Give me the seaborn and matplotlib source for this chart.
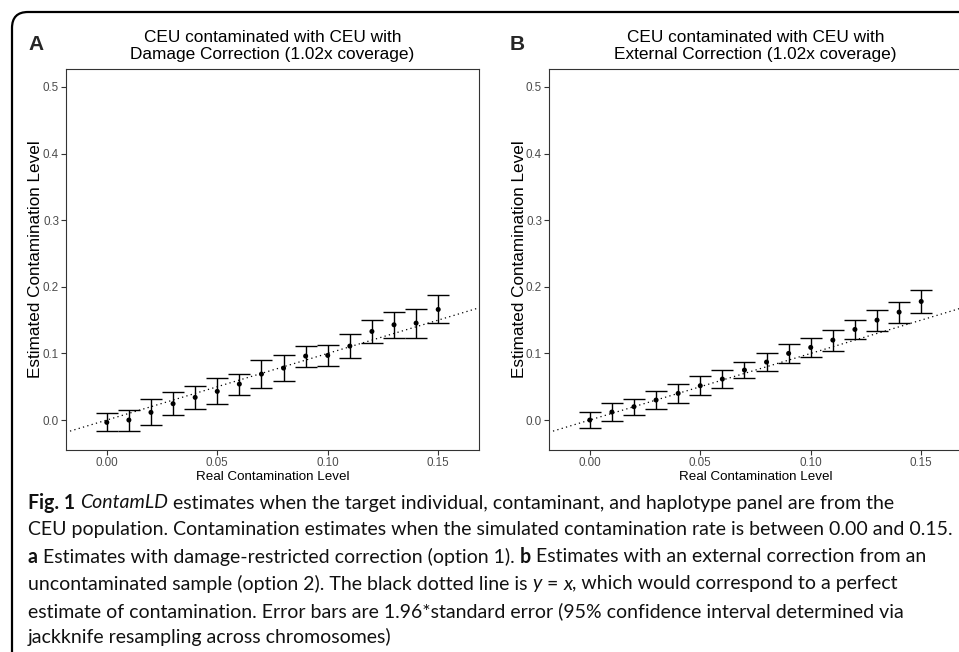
import matplotlib
matplotlib.use("Agg")
import matplotlib.pyplot as plt
from matplotlib.patches import FancyBboxPatch
from matplotlib import font_manager
import numpy as np
import pandas as pd
import seaborn as sns

# ---------------- data ----------------
real_level = [0.00, 0.01, 0.02, 0.03, 0.04, 0.05, 0.06, 0.07,
              0.08, 0.09, 0.10, 0.11, 0.12, 0.13, 0.14, 0.15]

damage_est = [-0.0035, 0.0000, 0.0115, 0.0245, 0.0340, 0.0430, 0.0540, 0.0690,
              0.0780, 0.0960, 0.0970, 0.1110, 0.1330, 0.1430, 0.1455, 0.1660]
damage_lo = [-0.0170, -0.0160, -0.0080, 0.0070, 0.0165, 0.0235, 0.0380, 0.0475,
             0.0585, 0.0800, 0.0810, 0.0930, 0.1155, 0.1235, 0.1235, 0.1450]
damage_hi = [0.0105, 0.0155, 0.0315, 0.0425, 0.0515, 0.0625, 0.0695, 0.0900,
             0.0970, 0.1110, 0.1120, 0.1290, 0.1505, 0.1625, 0.1665, 0.1875]

external_est = [0.0000, 0.0120, 0.0200, 0.0300, 0.0400, 0.0515, 0.0615, 0.0750,
                0.0870, 0.1000, 0.1090, 0.1200, 0.1360, 0.1500, 0.1620, 0.1780]
external_lo = [-0.0120, -0.0020, 0.0080, 0.0160, 0.0260, 0.0380, 0.0480, 0.0630,
               0.0730, 0.0860, 0.0950, 0.1040, 0.1220, 0.1340, 0.1460, 0.1600]
external_hi = [0.0115, 0.0255, 0.0315, 0.0435, 0.0535, 0.0655, 0.0755, 0.0865,
               0.1005, 0.1135, 0.1225, 0.1355, 0.1495, 0.1655, 0.1775, 0.1955]

panel_letters = ["A", "B"]
panel_titles = ["CEU contaminated with CEU with\nDamage Correction (1.02x coverage)",
                "CEU contaminated with CEU with\nExternal Correction (1.02x coverage)"]
x_label = "Real Contamination Level"
y_label = "Estimated Contamination Level"
x_ticks = [0.00, 0.05, 0.10, 0.15]
x_tick_labels = ["0.00", "0.05", "0.10", "0.15"]
y_ticks = [0.0, 0.1, 0.2, 0.3, 0.4, 0.5]
y_tick_labels = ["0.0", "0.1", "0.2", "0.3", "0.4", "0.5"]

caption_lines = [
    [("Fig. 1", "bold", "normal"), (" ", "normal", "normal"), ("ContamLD", "normal", "italic"),
     (" estimates when the target individual, contaminant, and haplotype panel are from the", "normal", "normal")],
    [("CEU population. Contamination estimates when the simulated contamination rate is between 0.00 and 0.15.", "normal", "normal")],
    [("a", "bold", "normal"), (" Estimates with damage-restricted correction (option 1). ", "normal", "normal"),
     ("b", "bold", "normal"), (" Estimates with an external correction from an", "normal", "normal")],
    [("uncontaminated sample (option 2). The black dotted line is ", "normal", "normal"),
     ("y", "normal", "italic"), (" = ", "normal", "normal"), ("x", "normal", "italic"),
     (", which would correspond to a perfect", "normal", "normal")],
    [("estimate of contamination. Error bars are 1.96*standard error (95% confidence interval determined via", "normal", "normal")],
    [("jackknife resampling across chromosomes)", "normal", "normal")],
]

# ---------------- figure ----------------
sns.set_theme(style="white")
plt.rcParams["font.family"] = ["Liberation Sans", "DejaVu Sans"]

W, H = 959, 652
fig = plt.figure(figsize=(W / 100, H / 100), dpi=100)
fig.patch.set_facecolor("white")

available = {f.name for f in font_manager.fontManager.ttflist}
narrow = "Liberation Sans Narrow" if "Liberation Sans Narrow" in available else "Liberation Sans"

def px_axes(left, top, right, bottom):
    return fig.add_axes([left / W, 1 - bottom / H, (right - left) / W, (bottom - top) / H])

ax_a = px_axes(65.7, 69, 479.3, 450)
ax_b = px_axes(548.7, 69, 962.3, 450)

panels = [
    (ax_a, damage_est, damage_lo, damage_hi),
    (ax_b, external_est, external_lo, external_hi),
]

frame_col = "#333333"
tick_col = "#4D4D4D"

for i, (ax, est, lo, hi) in enumerate(panels):
    df = pd.DataFrame({"real": real_level, "est": est, "lo": lo, "hi": hi})
    ax.axline((0, 0), slope=1, color="black", lw=0.9, linestyle=(0, (1, 2.6)), zorder=1)
    ax.errorbar(df["real"], df["est"],
                yerr=[df["est"] - df["lo"], df["hi"] - df["est"]],
                fmt="none", ecolor="black", elinewidth=1.0, capsize=7.8, capthick=1.0, zorder=2)
    sns.scatterplot(data=df, x="real", y="est", ax=ax, color="black", s=13,
                    edgecolor="none", linewidth=0, zorder=3)
    ax.set_xlim(-0.0186, 0.1686)
    ax.set_ylim(-0.045, 0.527)
    ax.set_xticks(x_ticks)
    ax.set_xticklabels(x_tick_labels)
    ax.set_yticks(y_ticks)
    ax.set_yticklabels(y_tick_labels)
    ax.tick_params(axis="both", which="major", direction="out", length=3.6, width=0.8,
                   color=frame_col, labelcolor=tick_col, labelsize=8.4, pad=1.2,
                   bottom=True, left=True)
    for s in ax.spines.values():
        s.set_visible(True)
        s.set_color(frame_col)
        s.set_linewidth(0.8)
    ax.grid(False)
    ax.set_facecolor("white")
    ax.set_xlabel(x_label, fontsize=9.6, family=[narrow, "DejaVu Sans"], color="black", va="center")
    ax.xaxis.set_label_coords(0.5, -(477 - 450) / 381)
    ax.set_ylabel(y_label, fontsize=12.3, color="black", va="center", ha="center")
    ax.yaxis.set_label_coords((36 - 65.7) / 413.6, 0.5)
    ax.text(0.5, 1 + (69 - 46) / 381, panel_titles[i], transform=ax.transAxes,
            ha="center", va="center", fontsize=12.4, linespacing=1.12, color="black")

# panel letters
fig.text(36 / W, 1 - 44 / H, panel_letters[0], fontsize=15, weight="bold", ha="center", va="center")
fig.text(517 / W, 1 - 44 / H, panel_letters[1], fontsize=15, weight="bold", ha="center", va="center")

# rounded figure border (clipped by the image edge on the right and bottom)
border = FancyBboxPatch((0.12, -0.6), 20, 6.52 - 0.12 + 0.6,
                        boxstyle="round,pad=0,rounding_size=0.16",
                        transform=fig.dpi_scale_trans, fill=False,
                        edgecolor="black", linewidth=1.6)
fig.add_artist(border)

# caption
cap_family = ["Lato", "DejaVu Sans"]
renderer = fig.canvas.get_renderer()

def text_width(s, size, weight, style):
    def w(txt):
        t = fig.text(0, 0, txt, fontsize=size, family=cap_family, weight=weight, style=style)
        bb = t.get_window_extent(renderer)
        t.remove()
        return bb.width
    return w("|" + s + "|") - w("||")

ref_size = 12.0
line2 = caption_lines[1][0][0]
scale = 922.0 / text_width(line2, ref_size, "normal", "normal")
cap_size = ref_size * scale

cap_x0 = 28
cap_y = [503, 530, 557, 584, 611, 637]
for line, yy in zip(caption_lines, cap_y):
    x = cap_x0
    for txt, weight, style in line:
        fig.text(x / W, 1 - yy / H, txt, fontsize=cap_size, family=cap_family,
                 weight=weight, style=style, ha="left", va="center", color="#111111")
        x += text_width(txt, cap_size, weight, style)

fig.savefig("out.png", dpi=100, facecolor="white")
